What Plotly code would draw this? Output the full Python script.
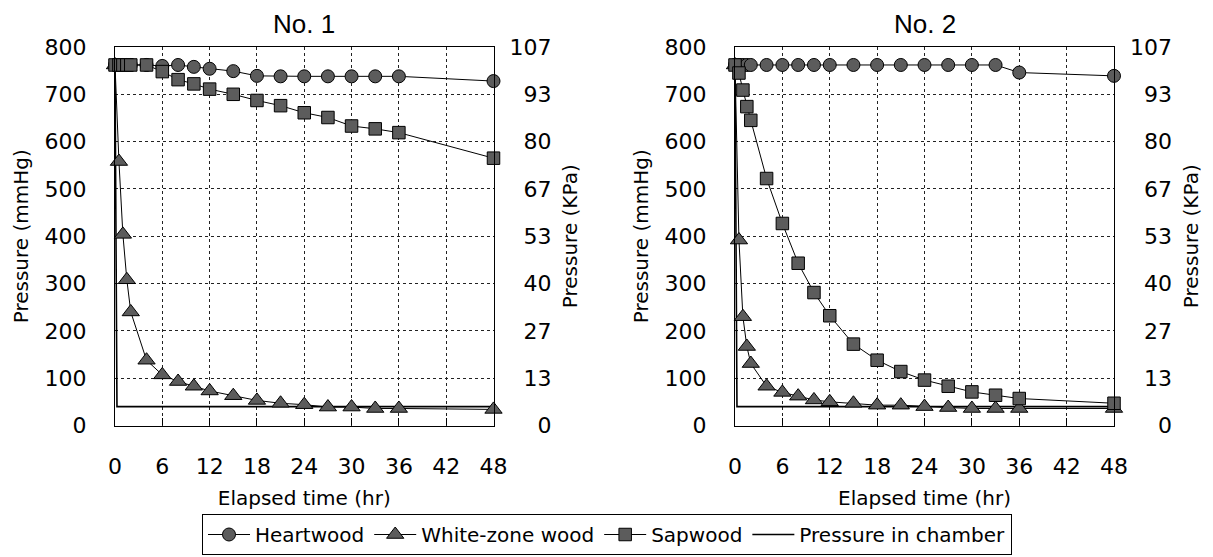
import plotly.graph_objects as go

# ---------------- data ----------------
time_h = [0, 0.5, 1, 1.5, 2, 4, 6, 8, 10, 12, 15, 18, 21, 24, 27, 30, 33, 36, 48]

no1_heartwood = [762, 762, 762, 762, 762, 762, 760, 762, 758, 754, 749, 739, 738, 738, 738, 738, 738, 738, 728]
no1_whitezone = [762, 558, 404, 308, 240, 138, 107, 93, 83, 73, 63, 53, 47, 44, 39, 39, 36, 36, 34]
no1_sapwood = [762, 762, 762, 762, 762, 762, 748, 731, 722, 711, 700, 687, 676, 661, 651, 633, 627, 619, 565]

no2_heartwood = [762, 762, 762, 762, 762, 762, 762, 762, 762, 762, 762, 762, 762, 762, 762, 762, 762, 746, 739]
no2_whitezone = [762, 392, 230, 167, 131, 83, 70, 62, 54, 50, 47, 43, 43, 40, 38, 36, 36, 36, 36]
no2_sapwood = [762, 745, 709, 674, 645, 522, 427, 343, 281, 232, 172, 138, 114, 96, 83, 71, 64, 57, 47]

chamber_time = [0, 0.25, 48]
chamber_pressure = [762, 40, 40]

x_ticks = [0, 6, 12, 18, 24, 30, 36, 42, 48]
mmhg_ticks = [0, 100, 200, 300, 400, 500, 600, 700, 800]
kpa_labels = ["0", "13", "27", "40", "53", "67", "80", "93", "107"]

panel_titles = ["No. 1", "No. 2"]
series_names = ["Heartwood", "White-zone wood", "Sapwood", "Pressure in chamber"]

# ---------------- styling ----------------
OFF = 8                      # page body margin
W, H = 1213 - OFF, 557 - OFF
FONT = "DejaVu Sans"
MFILL = "#5c5c5c"

fig = go.Figure()

panels = [
    dict(x="x", y="y", y2="y2", hw=no1_heartwood, wz=no1_whitezone, sw=no1_sapwood, legend=True),
    dict(x="x3", y="y3", y2="y4", hw=no2_heartwood, wz=no2_whitezone, sw=no2_sapwood, legend=False),
]

for p in panels:
    # invisible trace to anchor the secondary (KPa) axis
    fig.add_trace(go.Scatter(x=chamber_time, y=chamber_pressure, xaxis=p["x"], yaxis=p["y2"],
                             mode="lines", line=dict(width=0), opacity=0, showlegend=False,
                             hoverinfo="skip"))
    fig.add_trace(go.Scatter(x=chamber_time, y=chamber_pressure, xaxis=p["x"], yaxis=p["y"],
                             mode="lines", name=series_names[3], legendrank=4,
                             line=dict(color="black", width=1.6),
                             showlegend=p["legend"], cliponaxis=False))
    fig.add_trace(go.Scatter(x=time_h, y=p["hw"], xaxis=p["x"], yaxis=p["y"],
                             mode="lines+markers", name=series_names[0], legendrank=1,
                             line=dict(color="black", width=1),
                             marker=dict(symbol="circle", size=13, color=MFILL,
                                         line=dict(color="black", width=1)),
                             showlegend=p["legend"], cliponaxis=False))
    fig.add_trace(go.Scatter(x=time_h, y=p["wz"], xaxis=p["x"], yaxis=p["y"],
                             mode="lines+markers", name=series_names[1], legendrank=2,
                             line=dict(color="black", width=1),
                             marker=dict(symbol="triangle-up", size=15, color=MFILL,
                                         line=dict(color="black", width=1)),
                             showlegend=p["legend"], cliponaxis=False))
    fig.add_trace(go.Scatter(x=time_h, y=p["sw"], xaxis=p["x"], yaxis=p["y"],
                             mode="lines+markers", name=series_names[2], legendrank=3,
                             line=dict(color="black", width=1),
                             marker=dict(symbol="square", size=12.5, color=MFILL,
                                         line=dict(color="black", width=1)),
                             showlegend=p["legend"], cliponaxis=False))


def fx(px):
    return (px - OFF) / W


def fy(py):
    return 1 - (py - OFF) / H


ydom = [fy(425.5), fy(47)]
tickfont = dict(family=FONT, size=22, color="black")
titlefont = dict(family=FONT, size=20, color="black")

xcommon = dict(range=[0, 48], tickvals=x_ticks, ticks="inside", ticklen=7, tickcolor="black",
               showline=True, linecolor="black", linewidth=1.2, mirror=True,
               showgrid=True, gridcolor="#222222", griddash="dot", gridwidth=1,
               zeroline=False, tickfont=tickfont, ticklabelstandoff=21, automargin=False,
               title=dict(text="Elapsed time (hr)", font=titlefont, standoff=12))
ycommon = dict(range=[0, 800], tickvals=mmhg_ticks, ticks="", showline=True, linecolor="black",
               linewidth=1.2, mirror=True, showgrid=True, gridcolor="#222222", griddash="dot",
               gridwidth=1, zeroline=False, tickfont=tickfont, ticklabelstandoff=23,
               automargin=False,
               title=dict(text="Pressure (mmHg)", font=titlefont, standoff=10))
kpa_text = ["\u2007" * (3 - len(s)) + s for s in kpa_labels]
y2common = dict(range=[0, 800], tickvals=mmhg_ticks, ticktext=kpa_text, side="right",
                showgrid=False, zeroline=False, showline=False, ticks="",
                tickfont=tickfont, ticklabelstandoff=15, automargin=False,
                title=dict(text="Pressure (KPa)", font=titlefont, standoff=12))

fig.update_layout(
    width=W, height=H,
    margin=dict(l=0, r=0, t=0, b=0, pad=0, autoexpand=False),
    paper_bgcolor="white", plot_bgcolor="white",
    font=dict(family=FONT, color="black"),
    xaxis=dict(domain=[fx(115), fx(493.5)], anchor="y", **xcommon),
    yaxis=dict(domain=ydom, anchor="x", **ycommon),
    yaxis2=dict(overlaying="y", anchor="x", **y2common),
    xaxis3=dict(domain=[fx(735), fx(1114)], anchor="y3", **xcommon),
    yaxis3=dict(domain=ydom, anchor="x3", **ycommon),
    yaxis4=dict(overlaying="y3", anchor="x3", **y2common),
    showlegend=True,
    legend=dict(orientation="h", x=fx(607), xanchor="center", y=fy(534.5), yanchor="middle",
                bordercolor="black", borderwidth=1, bgcolor="white",
                font=dict(family=FONT, size=20, color="black"),
                traceorder="normal", itemwidth=42),
    annotations=[
        dict(text=panel_titles[0], x=fx(304), y=1, xref="paper", yref="paper",
             xanchor="center", yanchor="top", showarrow=False, borderpad=0,
             font=dict(family="Liberation Sans", size=26, color="black")),
        dict(text=panel_titles[1], x=fx(924.5), y=1, xref="paper", yref="paper",
             xanchor="center", yanchor="top", showarrow=False, borderpad=0,
             font=dict(family="Liberation Sans", size=26, color="black")),
    ],
)

fig.write_html("out.html")
